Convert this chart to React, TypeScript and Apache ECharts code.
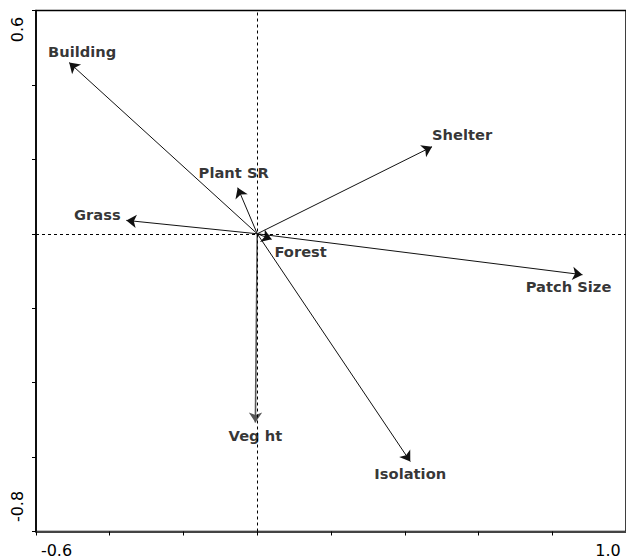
import React, { useEffect, useRef } from "react";
import * as echarts from "echarts";

// Variables and their biplot loadings (axis 1, axis 2)
const variables = ["Building", "Plant SR", "Grass", "Shelter", "Patch Size", "Forest", "Veg ht", "Isolation"];
const axis1 = [-0.51, -0.053, -0.355, 0.474, 0.882, 0.039, -0.005, 0.415];
const axis2 = [0.46, 0.124, 0.036, 0.234, -0.11, -0.015, -0.507, -0.612];

// Tick labels shown (only ends of each axis)
const xTickValues = [-0.6, 1.0];
const xTickLabels = ["-0.6", "1.0"];
const yTickValues = [0.6, -0.8];
const yTickLabels = ["0.6", "-0.8"];

// label offsets (px) relative to arrow tips - styling only
const labelOffsets: [number, number][] = [
  [13, -11.5],
  [-4, -15],
  [-29, -6],
  [30, -12],
  [-14, 12],
  [29, 12],
  [0, 13],
  [0, 12],
];

export default function App() {
  const ref = useRef<HTMLDivElement>(null);
  useEffect(() => {
    if (!ref.current) return;
    const chart = echarts.init(ref.current, null, { renderer: "svg" });
    const option: any = {
      animation: false,
      grid: {
        left: 36,
        top: 10.5,
        width: 594.5,
        height: 521,
        show: true,
        borderColor: "#000",
        borderWidth: 1.5,
        backgroundColor: "transparent",
      },
      xAxis: {
        type: "value",
        min: -0.6,
        max: 1.0,
        interval: 0.2,
        axisLine: { show: true, onZero: false, lineStyle: { color: "#444", width: 2 } },
        axisTick: { show: true, length: 4, lineStyle: { color: "#000", width: 1 } },
        axisLabel: { show: false },
        splitLine: { show: false },
      },
      yAxis: {
        type: "value",
        min: -0.8,
        max: 0.6,
        interval: 0.2,
        axisLine: { show: true, onZero: false, lineStyle: { color: "#000", width: 1.5 } },
        axisTick: { show: true, length: 4, lineStyle: { color: "#000", width: 1 } },
        axisLabel: { show: false },
        splitLine: { show: false },
      },
      series: [
        {
          type: "scatter",
          symbolSize: 0,
          silent: true,
          z: 1,
          data: [],
          markLine: {
            silent: true,
            symbol: ["none", "none"],
            label: { show: false },
            lineStyle: { type: [3, 3], color: "#000", width: 1 },
            data: [{ xAxis: 0 }, { yAxis: 0 }],
          },
        },
        {
          type: "lines",
          coordinateSystem: "cartesian2d",
          silent: true,
          z: 3,
          symbol: ["none", "arrow"],
          symbolSize: [0, 10],
          lineStyle: { color: "#111", width: 1, opacity: 1 },
          data: variables.map((name, i) => ({
            name,
            coords: [
              [0, 0],
              [axis1[i], axis2[i]],
            ],
            lineStyle: name === "Veg ht" ? { color: "#555", width: 1.6 } : undefined,
          })),
        },
        {
          type: "scatter",
          symbolSize: 0,
          silent: true,
          z: 4,
          data: variables.map((name, i) => ({
            name,
            value: [axis1[i], axis2[i]],
            label: {
              show: true,
              position: "inside",
              offset: labelOffsets[i],
              formatter: name,
              color: "#000",
              fontFamily: "DejaVu Sans",
              fontWeight: "bold",
              fontSize: 14.7,
              align: "center",
              verticalAlign: "middle",
            },
          })),
        },
      ],
    };
    chart.setOption(option);

    const graphics: any[] = [];
    xTickValues.forEach((v, i) => {
      const p = chart.convertToPixel({ gridIndex: 0 }, [v, -0.8]) as number[];
      const dx = i === 0 ? 20.5 : -18;
      graphics.push({
        type: "text",
        x: p[0] + dx,
        y: p[1] + 19,
        style: {
          text: xTickLabels[i],
          fill: "#000",
          font: "16px 'DejaVu Sans'",
          align: "center",
          verticalAlign: "middle",
        },
      });
    });
    yTickValues.forEach((v, i) => {
      const p = chart.convertToPixel({ gridIndex: 0 }, [-0.6, v]) as number[];
      const dy = i === 0 ? 19 : -25;
      graphics.push({
        type: "text",
        x: p[0] - 18.5,
        y: p[1] + dy,
        rotation: Math.PI / 2,
        style: {
          text: yTickLabels[i],
          fill: "#000",
          font: "16px 'DejaVu Sans'",
          align: "center",
          verticalAlign: "middle",
        },
      });
    });
    chart.setOption({ graphic: graphics });

    return () => chart.dispose();
  }, []);
  return (
    <div
      ref={ref}
      style={{ position: "absolute", left: 0, top: 0, width: 626, height: 560, background: "#fff" }}
    />
  );
}
